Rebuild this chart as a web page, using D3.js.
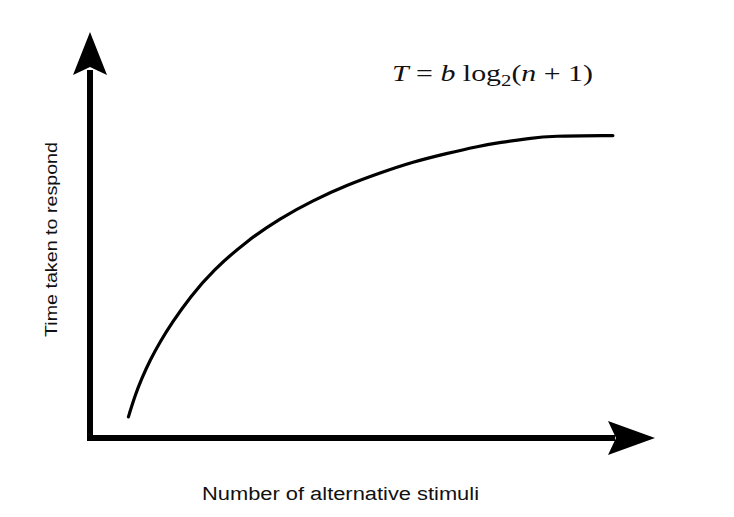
<!DOCTYPE html>
<html>
<head>
<meta charset="utf-8">
<script src="https://cdn.jsdelivr.net/npm/d3@7"></script>
<style>
  html, body { margin: 0; padding: 0; background: #fff; }
  svg { display: block; }
</style>
</head>
<body>
<svg id="chart" width="734" height="517"></svg>
<script>
// Data (arbitrary units)
const stimuli      = [1.36, 1.59, 1.84, 2.12, 2.48, 2.90, 3.54, 4.35, 5.56, 6.73, 7.89, 9.10, 10.27, 11.43, 12.64, 13.70, 14.51, 15.58, 16.28, 18.51];
const responseTime = [0.52, 1.04, 1.48, 1.91, 2.37, 2.84, 3.47, 4.13, 4.86, 5.41, 5.85, 6.23, 6.53, 6.80, 7.01, 7.18, 7.28, 7.38, 7.44, 7.45];
const xDomain = [0, 20];
const yDomain = [0, 10];
const xLabel = "Number of alternative stimuli";
const yLabel = "Time taken to respond";

const svg = d3.select("#chart");
const x = d3.scaleLinear().domain(xDomain).range([90, 655]);
const y = d3.scaleLinear().domain(yDomain).range([438, 32]);

const x0 = x(xDomain[0]), y0 = y(yDomain[0]);
const xEnd = x(xDomain[1]), yEnd = y(yDomain[1]);

// Axis shafts
svg.append("path")
  .attr("d", `M${x0},${yEnd + 38} L${x0},${y0} L${xEnd - 40},${y0}`)
  .attr("fill", "none")
  .attr("stroke", "#000")
  .attr("stroke-width", 6)
  .attr("stroke-linejoin", "miter");

// Arrow heads
const hl = 47, hw = 17, notch = 8;
svg.append("path")
  .attr("d", `M${xEnd},${y0} L${xEnd - hl},${y0 - hw} L${xEnd - hl + notch},${y0} L${xEnd - hl},${y0 + hw} Z`)
  .attr("fill", "#000");
svg.append("path")
  .attr("d", `M${x0},${yEnd} L${x0 - hw},${yEnd + 43} L${x0},${yEnd + 43 - notch} L${x0 + hw},${yEnd + 43} Z`)
  .attr("fill", "#000");

// Curve
const pts = stimuli.map((s, i) => [s, responseTime[i]]);
const line = d3.line()
  .x(d => x(d[0]))
  .y(d => y(d[1]))
  .curve(d3.curveBasis);
svg.append("path")
  .datum(pts)
  .attr("d", line)
  .attr("fill", "none")
  .attr("stroke", "#000")
  .attr("stroke-width", 3.2)
  .attr("stroke-linecap", "round");

// Axis labels
svg.append("text")
  .attr("x", 202).attr("y", 500)
  .attr("font-family", "Liberation Sans, Arial, sans-serif")
  .attr("font-size", 18)
  .attr("fill", "#111")
  .attr("textLength", 277)
  .attr("lengthAdjust", "spacingAndGlyphs")
  .text(xLabel);

svg.append("text")
  .attr("transform", "translate(57,337) rotate(-90)")
  .attr("font-family", "Liberation Sans, Arial, sans-serif")
  .attr("font-size", 16)
  .attr("fill", "#111")
  .attr("textLength", 195)
  .attr("lengthAdjust", "spacingAndGlyphs")
  .text(yLabel);

// Equation
const eq = svg.append("text")
  .attr("x", 392).attr("y", 81)
  .attr("font-family", "Liberation Serif, Times New Roman, serif")
  .attr("font-size", 23)
  .attr("fill", "#111")
  .attr("textLength", 201)
  .attr("lengthAdjust", "spacingAndGlyphs");
eq.append("tspan").attr("font-style", "italic").text("T");
eq.append("tspan").text(" = ");
eq.append("tspan").attr("font-style", "italic").text("b");
eq.append("tspan").text(" log");
eq.append("tspan").attr("font-size", 16).attr("dy", 5).text("2");
eq.append("tspan").attr("dy", -5).text("(");
eq.append("tspan").attr("font-style", "italic").text("n");
eq.append("tspan").text(" + 1)");
</script>
</body>
</html>
